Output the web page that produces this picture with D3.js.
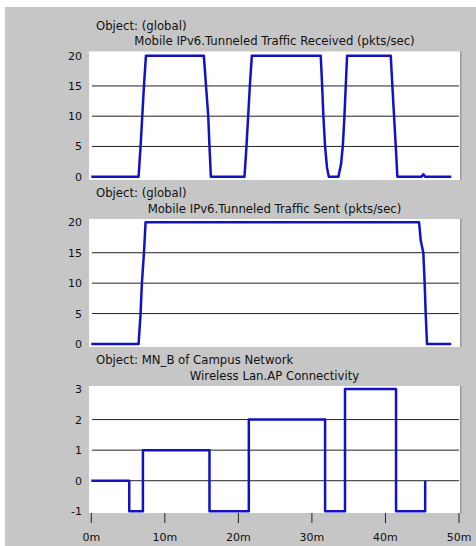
<!DOCTYPE html>
<html>
<head>
<meta charset="utf-8">
<script src="https://cdn.jsdelivr.net/npm/d3@7"></script>
<style>
  html, body { margin: 0; padding: 0; background: #fff; }
  svg { display: block; }
  text { font-family: "DejaVu Sans", sans-serif; font-size: 11.7px; fill: #111; }
  text.ytick, text.xlabel { font-size: 11px; }
</style>
</head>
<body>
<script>
// x axis, minutes
const xTicks = [0, 10, 20, 30, 40, 50];

// panel texts
const objectLabels = ['Object: (global)', 'Object: (global)', 'Object: MN_B of Campus Network'];
const titles = [
  'Mobile IPv6.Tunneled Traffic Received (pkts/sec)',
  'Mobile IPv6.Tunneled Traffic Sent (pkts/sec)',
  'Wireless Lan.AP Connectivity'
];

// y ticks and grid lines per panel
const yTicks1 = [0, 5, 10, 15, 20];
const yGrid1 = [5, 10, 15];
const yTicks3 = [-1, 0, 1, 2, 3];
const yGrid3 = [0, 1, 2];

// series: [minute, value]
const received = [
  [0, 0], [6.43, 0], [6.7, 5], [6.93, 10], [7.16, 15], [7.43, 20],
  [15.3, 20], [15.6, 15], [15.9, 10], [16.07, 5], [16.26, 0],
  [20.83, 0], [21.1, 5], [21.33, 10], [21.56, 15], [21.83, 20],
  [31.2, 20], [31.39, 15], [31.56, 10], [31.79, 5], [32.05, 1.5], [32.3, 0],
  [33.6, 0], [33.95, 2], [34.2, 5], [34.42, 10], [34.6, 15], [34.78, 20],
  [40.72, 20], [40.94, 15], [41.17, 10], [41.4, 5], [41.62, 0],
  [44.9, 0], [45.15, 0.4], [45.4, 0], [48.95, 0]
];
const sent = [
  [0, 0], [6.43, 0], [6.7, 5], [6.88, 10], [7.16, 15], [7.38, 20],
  [44.57, 20], [44.8, 17], [45.15, 15], [45.33, 10], [45.47, 5], [45.65, 0],
  [48.95, 0]
];
const connectivity = [
  [0, 0], [5.16, 0], [5.16, -1], [7.02, -1], [7.02, 1], [16.07, 1], [16.07, -1],
  [21.42, -1], [21.42, 2], [31.79, 2], [31.79, -1], [34.5, -1], [34.5, 3],
  [41.44, 3], [41.44, -1], [45.4, -1], [45.4, 0]
];

const width = 476;
const height = 546;
const plotLeft = 89;
const plotRight = 460;

const panels = [
  {data: received, domain: [0, 20], ticks: yTicks1, grid: yGrid1, top: 55.7, bottom: 176.7, rectTop: 51.5, rectBottom: 180},
  {data: sent, domain: [0, 20], ticks: yTicks1, grid: yGrid1, top: 222.3, bottom: 344, rectTop: 219, rectBottom: 347},
  {data: connectivity, domain: [-1, 3], ticks: yTicks3, grid: yGrid3, top: 389, bottom: 511.3, rectTop: 386, rectBottom: 513}
];

const x = d3.scaleLinear().domain([0, 50]).range([91.3, 459]);

const svg = d3.select('body').append('svg')
  .attr('width', width).attr('height', height);

svg.append('rect')
  .attr('x', 5).attr('y', 7)
  .attr('width', width - 5).attr('height', height - 7)
  .attr('fill', '#c6c6c7');

panels.forEach((p, i) => {
  const y = d3.scaleLinear().domain(p.domain).range([p.bottom, p.top]);
  const g = svg.append('g');

  g.append('rect')
    .attr('x', plotLeft).attr('y', p.rectTop)
    .attr('width', plotRight - plotLeft).attr('height', p.rectBottom - p.rectTop)
    .attr('fill', '#fff');
  // right edge shadow
  g.append('line')
    .attr('x1', plotRight + 0.75).attr('x2', plotRight + 0.75)
    .attr('y1', p.rectTop).attr('y2', p.rectBottom)
    .attr('stroke', '#9a9a9a').attr('stroke-width', 1.5);

  g.append('text')
    .attr('x', 96).attr('y', p.rectTop - 22)
    .text(objectLabels[i]);
  g.append('text')
    .attr('x', (plotLeft + plotRight) / 2).attr('y', p.rectTop - 6.5)
    .attr('text-anchor', 'middle')
    .text(titles[i]);

  g.selectAll('.grid').data(p.grid)
    .enter().append('line')
    .attr('class', 'grid')
    .attr('x1', 92).attr('x2', 459)
    .attr('y1', d => y(d)).attr('y2', d => y(d))
    .attr('stroke', '#222').attr('stroke-width', 1);

  g.selectAll('.ytick').data(p.ticks)
    .enter().append('text')
    .attr('class', 'ytick')
    .attr('x', 82).attr('y', d => y(d))
    .attr('dy', '0.36em')
    .attr('text-anchor', 'end')
    .text(d => d);

  const line = d3.line().x(d => x(d[0])).y(d => y(d[1]));
  g.append('path')
    .datum(p.data)
    .attr('d', line)
    .attr('fill', 'none')
    .attr('stroke', '#1212c4')
    .attr('stroke-width', 2.5)
    .attr('stroke-linejoin', 'round');
});

// x axis under the last panel
const last = panels[panels.length - 1];
const axis = svg.append('g');
axis.selectAll('.xtick').data(xTicks)
  .enter().append('line')
  .attr('x1', d => x(d)).attr('x2', d => x(d))
  .attr('y1', last.rectBottom).attr('y2', last.rectBottom + 10)
  .attr('stroke', '#222').attr('stroke-width', 1);
axis.selectAll('.xlabel').data(xTicks)
  .enter().append('text')
  .attr('class', 'xlabel')
  .attr('x', d => x(d)).attr('y', 540.5)
  .attr('text-anchor', 'middle')
  .text(d => d + 'm');
</script>
</body>
</html>
